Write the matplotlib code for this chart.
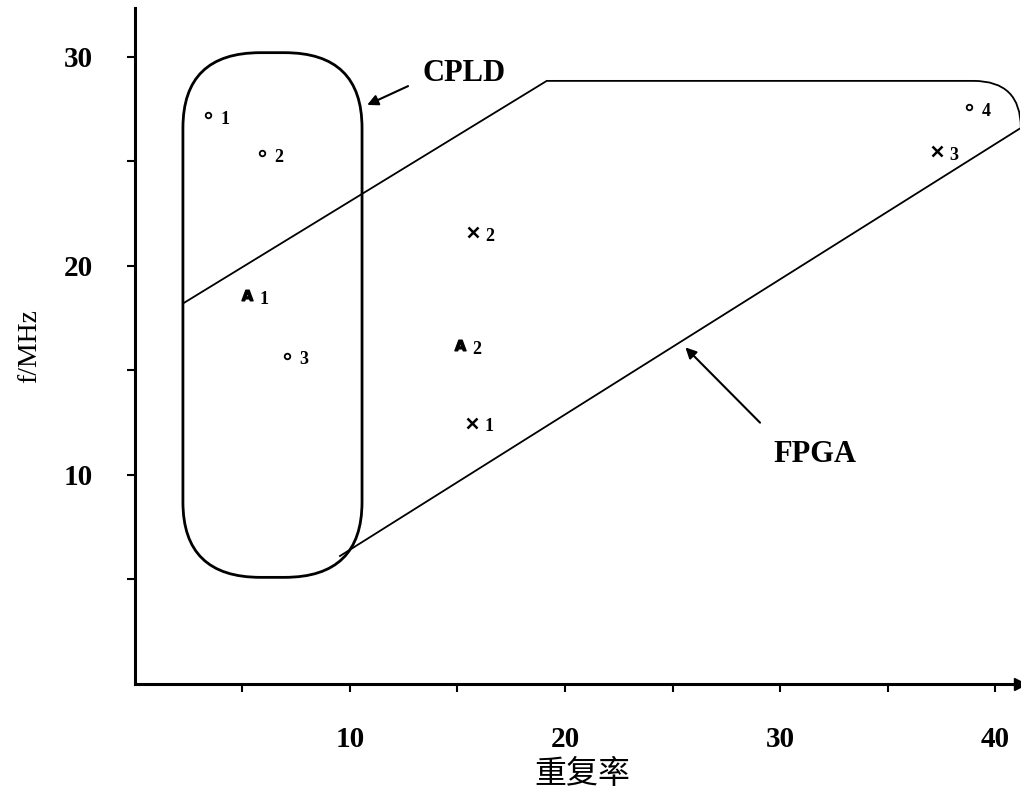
import matplotlib
matplotlib.use("Agg")
import matplotlib.pyplot as plt
from matplotlib.patches import FancyBboxPatch, PathPatch
from matplotlib.path import Path

# region outlines (data units)
cpld_x = [2.23, 10.56]
cpld_y = [5.1, 30.2]
cpld_round = 3.6
# FPGA: upper line start, top-left corner, top-right corner, right side, lower line end
fpga_x = [2.23, 19.15, 39.0, 41.2, 41.2, 9.5]
fpga_y = [18.2, 28.85, 28.85, 28.85, 26.6, 6.1]

# points
circle_x = [3.40, 5.91, 7.07, 38.8]
circle_y = [27.2, 25.4, 15.7, 27.6]
circle_lab = ["1", "2", "3", "4"]
cross_x = [15.67, 15.72, 37.3]
cross_y = [12.5, 21.6, 25.5]
cross_lab = ["1", "2", "3"]
a_x = [5.21, 15.12]
a_y = [18.6, 16.2]
a_lab = ["1", "2"]

xticks = [10, 20, 30, 40]
yticks = [10, 20, 30]

serif = "Liberation Serif"

fig = plt.figure(figsize=(10.21, 8.01), dpi=100)
ax = fig.add_axes([0.1322, 0.1461, 0.8668, 0.844])
ax.set_xlim(0, 41.16)
ax.set_ylim(0, 32.34)

for s in ["top", "right"]:
    ax.spines[s].set_visible(False)
for s in ["left", "bottom"]:
    ax.spines[s].set_linewidth(2.2)
ax.plot(1, 0, marker=">", color="k", ms=8, transform=ax.transAxes, clip_on=False)

ax.set_xticks(xticks)
ax.set_yticks(yticks)
ax.set_xticks([5, 15, 25, 35], minor=True)
ax.set_yticks([5, 15, 25], minor=True)
ax.tick_params(which="both", direction="out", length=6, width=1.5)
ax.tick_params(axis="x", pad=24)
ax.tick_params(axis="y", pad=24)
for lab in ax.get_xticklabels() + ax.get_yticklabels():
    lab.set_fontfamily(serif)
    lab.set_fontweight("bold")
    lab.set_fontsize(21)

ax.set_ylabel("f/MHz", family=serif, fontsize=20, labelpad=16)
ax.set_xlabel("重复率", family=["Noto Sans CJK SC", "DejaVu Sans"], fontsize=23)
ax.xaxis.set_label_coords(0.505, -0.11)

# CPLD rounded box
box = FancyBboxPatch((cpld_x[0], cpld_y[0]), cpld_x[1] - cpld_x[0], cpld_y[1] - cpld_y[0],
                     boxstyle="round,pad=0,rounding_size=%g" % cpld_round,
                     fill=False, lw=2.0, ec="k")
ax.add_patch(box)

# FPGA outline
verts = list(zip(fpga_x, fpga_y))
codes = [Path.MOVETO, Path.LINETO, Path.LINETO, Path.CURVE3, Path.CURVE3, Path.LINETO]
ax.add_patch(PathPatch(Path(verts, codes), fill=False, lw=1.3, ec="k"))

# points
lab_kw = dict(textcoords="offset points", xytext=(9, -3), ha="left", va="center",
              family=serif, fontweight="bold", fontsize=13)
ax.plot(circle_x, circle_y, "o", ms=4, mfc="white", mec="k", mew=1.3, ls="none")
for x, y, t in zip(circle_x, circle_y, circle_lab):
    ax.annotate(t, (x, y), **lab_kw)
ax.plot(cross_x, cross_y, "x", ms=7, mec="k", mew=1.8, ls="none")
for x, y, t in zip(cross_x, cross_y, cross_lab):
    ax.annotate(t, (x, y), **lab_kw)
ax.plot(a_x, a_y, ls="none", marker=r"$\mathbf{A}$", ms=8, color="k")
for x, y, t in zip(a_x, a_y, a_lab):
    ax.annotate(t, (x, y), **lab_kw)

# labels with arrows
arr = dict(arrowstyle="-|>", lw=1.5, color="k", mutation_scale=16, shrinkA=0, shrinkB=0)
ax.annotate("", xy=(10.8, 27.7), xytext=(12.7, 28.6), arrowprops=arr)
ax.text(13.35, 29.2, "CPLD", family=serif, fontweight="bold", fontsize=22, ha="left", va="center")
ax.annotate("", xy=(25.6, 16.1), xytext=(29.07, 12.5), arrowprops=arr)
ax.text(29.7, 11.0, "FPGA", family=serif, fontweight="bold", fontsize=22, ha="left", va="center")

fig.savefig("out.png", dpi=100)
